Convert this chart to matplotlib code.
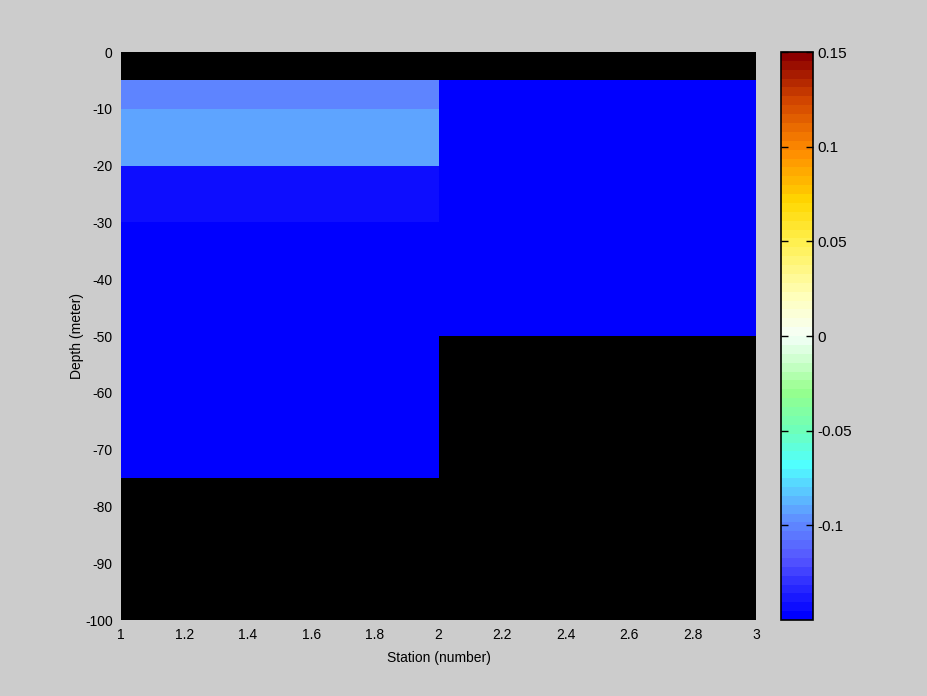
import numpy as np
import matplotlib
matplotlib.use("Agg")
import matplotlib.pyplot as plt
from matplotlib.colors import ListedColormap, LinearSegmentedColormap, Normalize

plt.rcParams['font.family'] = ['Liberation Sans', 'DejaVu Sans']
plt.rcParams['axes.unicode_minus'] = False

# Data
stations = [1, 2, 3]                       # cell edges along x
depths = [0, -5, -10, -20, -30, -50, -75, -100]  # cell edges along y
station1_vals = [np.nan, -0.1, -0.092, -0.145, -0.16, -0.16, np.nan]
station2_vals = [np.nan, -0.16, -0.16, -0.16, -0.16, np.nan, np.nan]
xticks = [1, 1.2, 1.4, 1.6, 1.8, 2, 2.2, 2.4, 2.6, 2.8, 3]
yticks = [0, -10, -20, -30, -40, -50, -60, -70, -80, -90, -100]
cticks = [-0.1, -0.05, 0, 0.05, 0.1, 0.15]
vmin, vmax = -0.15, 0.15

# Colormap anchors (position 0..1, rgb)
anchors = [
    (0.00, (0, 0, 255)),
    (0.05, (40, 40, 255)),
    (0.10, (85, 85, 255)),
    (0.167, (96, 140, 255)),
    (0.22, (90, 200, 255)),
    (0.27, (80, 255, 255)),
    (0.333, (110, 255, 185)),
    (0.40, (150, 255, 140)),
    (0.45, (200, 255, 200)),
    (0.50, (245, 255, 250)),
    (0.57, (255, 255, 190)),
    (0.667, (255, 240, 80)),
    (0.74, (255, 215, 0)),
    (0.833, (255, 140, 0)),
    (0.92, (210, 70, 0)),
    (1.00, (140, 0, 0)),
]
base = LinearSegmentedColormap.from_list(
    'custom', [(p, tuple(c / 255 for c in rgb)) for p, rgb in anchors])
cmap = ListedColormap(base(np.linspace(0, 1, 64)))

C = np.array([station1_vals, station2_vals]).T
C = np.ma.masked_invalid(C)

fig = plt.figure(figsize=(9.28, 6.96), dpi=100, facecolor='#cccccc')
ax = fig.add_axes([121/928, 76/696, 635/928, 568/696])
ax.set_facecolor('black')
norm = Normalize(vmin=vmin, vmax=vmax)
mesh = ax.pcolormesh(stations, depths, C, cmap=cmap, norm=norm, shading='flat')
ax.set_xlim(1, 3)
ax.set_ylim(-100, 0)
ax.set_xticks(xticks)
ax.set_xticklabels(['1', '1.2', '1.4', '1.6', '1.8', '2', '2.2', '2.4', '2.6', '2.8', '3'])
ax.set_yticks(yticks)
ax.set_yticklabels([str(t) for t in yticks])
ax.tick_params(axis='x', direction='in', length=0, labelsize=10, pad=6)
ax.tick_params(axis='y', direction='in', length=0, labelsize=10, pad=6)
for s in ax.spines.values():
    s.set_visible(False)
ax.set_xlabel('Station (number)', fontsize=10, labelpad=6)
ax.set_ylabel('Depth (meter)', fontsize=10, labelpad=1)

cax = fig.add_axes([781/928, 76/696, 32/928, 568/696])
cb = fig.colorbar(mesh, cax=cax, ticks=cticks)
cb.ax.set_yticklabels(['-0.1', '-0.05', '0', '0.05', '0.1', '0.15'])
cb.ax.tick_params(direction='in', length=5, width=1, labelsize=11, left=True, right=True, pad=3)
cb.outline.set_linewidth(1.2)

fig.savefig('out.png', dpi=100, facecolor=fig.get_facecolor())
